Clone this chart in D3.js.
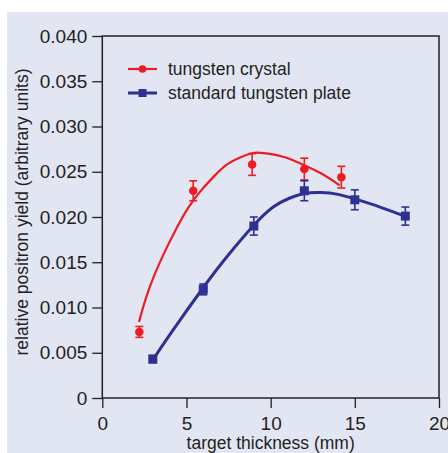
<!DOCTYPE html>
<html>
<head>
<meta charset="utf-8">
<script src="https://cdn.jsdelivr.net/npm/d3@7"></script>
<style>
  html, body { margin: 0; padding: 0; background: #ffffff; }
  svg { display: block; }
  text { font-family: "Liberation Sans", Arial, sans-serif; fill: #231f20; }
</style>
</head>
<body>
<svg id="chart" width="448" height="453"></svg>
<script>
// Measured yields: tungsten crystal
const crystalX = [2.2, 5.4, 8.9, 12.0, 14.2];
const crystalY = [0.0073, 0.0229, 0.0258, 0.0253, 0.0244];
const crystalErr = [0.0006, 0.0011, 0.0012, 0.0012, 0.0012];

// Measured yields: standard tungsten plate
const plateX = [3, 6, 9, 12, 15, 18];
const plateY = [0.0043, 0.0120, 0.0190, 0.0229, 0.0219, 0.0201];
const plateErr = [0.0004, 0.0006, 0.0010, 0.0011, 0.0011, 0.0010];

// Fitted trend curves (sampled)
const crystalFitX = [2.18, 2.73, 3.52, 4.31, 5.10, 5.90, 6.69, 7.48, 8.47, 9.06, 9.85, 10.84, 12.03, 13.02, 14.1];
const crystalFitY = [0.0084, 0.0118, 0.0154, 0.0184, 0.0210, 0.0230, 0.0246, 0.0259, 0.0268, 0.0271, 0.0270, 0.0266, 0.0257, 0.0248, 0.0235];
const plateFitX = [3.03, 4.2, 5.96, 7.4, 8.96, 10.15, 11.14, 12.0, 13.0, 14.0, 15.0, 16.5, 17.96];
const plateFitY = [0.0043, 0.0075, 0.0121, 0.0156, 0.0190, 0.0211, 0.0221, 0.0226, 0.0227, 0.0225, 0.0220, 0.0211, 0.0201];

// Axis ticks and labels
const xTicks = [0, 5, 10, 15, 20];
const yTicks = [0, 0.005, 0.010, 0.015, 0.020, 0.025, 0.030, 0.035, 0.040];
const seriesNames = ["tungsten crystal", "standard tungsten plate"];
const xTitle = "target thickness (mm)";
const yTitle = "relative positron yield (arbitrary units)";

const RED = "#ed1c24";
const BLUE = "#2e3192";
const INK = "#231f20";

const svg = d3.select("#chart");

// Panel background
svg.append("rect")
  .attr("x", 7).attr("y", 12)
  .attr("width", 441).attr("height", 441)
  .attr("fill", "#e2e6f3");

const x = d3.scaleLinear().domain([0, 20]).range([102.3, 439]);
const y = d3.scaleLinear().domain([0, 0.04]).range([398, 36]);

// Y axis
const yAxis = svg.append("g")
  .attr("transform", `translate(${x(0)},0)`)
  .call(d3.axisLeft(y).tickValues(yTicks).tickSize(10).tickPadding(5)
    .tickFormat(d => d === 0 ? "0" : d3.format(".3f")(d)));
yAxis.selectAll("text").style("font-size", "19px").attr("fill", INK);
yAxis.selectAll("line").attr("stroke", INK).attr("stroke-width", 1.3);
yAxis.select(".domain").remove();

// X axis
const xAxis = svg.append("g")
  .attr("transform", `translate(0,${y(0)})`)
  .call(d3.axisBottom(x).tickValues(xTicks).tickSize(10).tickPadding(9)
    .tickFormat(d3.format("d")));
xAxis.selectAll("text").style("font-size", "19px").attr("fill", INK);
xAxis.selectAll("line").attr("stroke", INK).attr("stroke-width", 1.3);
xAxis.select(".domain").remove();

// Plot frame
svg.append("rect")
  .attr("x", x(0)).attr("y", y(0.04))
  .attr("width", x(20) - x(0)).attr("height", y(0) - y(0.04))
  .attr("fill", "none").attr("stroke", INK).attr("stroke-width", 1.5);

// Axis titles
svg.append("text")
  .attr("x", x(10)).attr("y", 449)
  .attr("text-anchor", "middle")
  .style("font-size", "17.5px")
  .text(xTitle);

svg.append("text")
  .attr("transform", `translate(28,${212}) rotate(-90)`)
  .attr("text-anchor", "middle")
  .style("font-size", "17.5px")
  .text(yTitle);

const line = d3.line().x(d => x(d[0])).y(d => y(d[1])).curve(d3.curveNatural);

// Fit curves
svg.append("path")
  .datum(crystalFitX.map((v, i) => [v, crystalFitY[i]]))
  .attr("d", line)
  .attr("fill", "none").attr("stroke", RED).attr("stroke-width", 2.2);

svg.append("path")
  .datum(plateFitX.map((v, i) => [v, plateFitY[i]]))
  .attr("d", line)
  .attr("fill", "none").attr("stroke", BLUE).attr("stroke-width", 3);

// Error bars
function errorBars(xs, ys, es, color) {
  const g = svg.append("g").attr("stroke", color).attr("stroke-width", 1.6);
  xs.forEach((xv, i) => {
    const cx = x(xv), y1 = y(ys[i] + es[i]), y2 = y(ys[i] - es[i]);
    g.append("line").attr("x1", cx).attr("x2", cx).attr("y1", y1).attr("y2", y2);
    g.append("line").attr("x1", cx - 4).attr("x2", cx + 4).attr("y1", y1).attr("y2", y1);
    g.append("line").attr("x1", cx - 4).attr("x2", cx + 4).attr("y1", y2).attr("y2", y2);
  });
}
errorBars(crystalX, crystalY, crystalErr, RED);
errorBars(plateX, plateY, plateErr, BLUE);

// Markers
svg.append("g").selectAll("circle")
  .data(crystalX.map((v, i) => [v, crystalY[i]]))
  .join("circle")
  .attr("cx", d => x(d[0])).attr("cy", d => y(d[1]))
  .attr("r", 4.3).attr("fill", RED);

svg.append("g").selectAll("rect")
  .data(plateX.map((v, i) => [v, plateY[i]]))
  .join("rect")
  .attr("x", d => x(d[0]) - 4.5).attr("y", d => y(d[1]) - 4.5)
  .attr("width", 9).attr("height", 9).attr("fill", BLUE);

// Legend
const legend = svg.append("g");
[[RED, 69], [BLUE, 93]].forEach(([c, ly], i) => {
  legend.append("line")
    .attr("x1", 128).attr("x2", 157).attr("y1", ly).attr("y2", ly)
    .attr("stroke", c).attr("stroke-width", i === 0 ? 2.2 : 3);
  if (i === 0) {
    legend.append("circle").attr("cx", 142.5).attr("cy", ly).attr("r", 3.8).attr("fill", c);
  } else {
    legend.append("rect").attr("x", 138.5).attr("y", ly - 4).attr("width", 8).attr("height", 8).attr("fill", c);
  }
  legend.append("text")
    .attr("x", 168).attr("y", ly).attr("dy", "0.35em")
    .style("font-size", "17.5px")
    .text(seriesNames[i]);
});
</script>
</body>
</html>
